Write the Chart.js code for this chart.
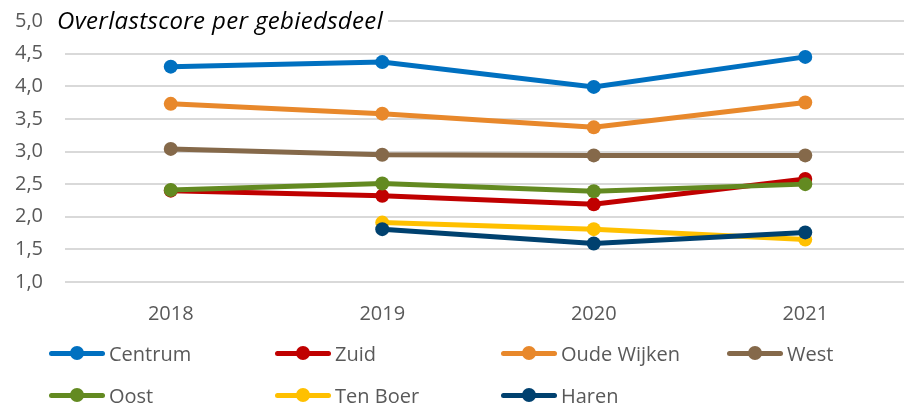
<!DOCTYPE html>
<html>
<head>
<meta charset="utf-8">
<script src="https://cdn.jsdelivr.net/npm/chart.js@4.4.1/dist/chart.umd.min.js"></script>
<style>
  body { margin: 0; overflow: hidden; background: #fff; }
  #wrap { position: relative; width: 918px; height: 406px; overflow: hidden; }
  #grafiek { position: absolute; left: 0; top: -13px; }
  #legend { position: absolute; left: 0; top: 0; width: 904px; height: 406px; pointer-events: none;
            font-family: "Open Sans", sans-serif; font-size: 20px; color: #595959; }
  .item { position: absolute; display: flex; align-items: center; height: 30px; }
  .mark { position: relative; width: 56px; height: 5px; border-radius: 3px; margin-right: 4px; }
  .mark span { position: absolute; left: 21px; top: -5px; width: 14px; height: 14px; border-radius: 50%; }
</style>
</head>
<body>
<div id="wrap">
  <canvas id="grafiek" width="918" height="351"></canvas>
  <div id="legend"></div>
</div>
<script>
const titel = "Overlastscore per gebiedsdeel";
const jaren = ["2018", "2019", "2020", "2021"];
const gebieden = ["Centrum", "Zuid", "Oude Wijken", "West", "Oost", "Ten Boer", "Haren"];
const kleuren = ["#0070C0", "#C00000", "#E8882B", "#85694A", "#638A21", "#FFC000", "#00416F"];

const centrum = [4.30, 4.37, 3.99, 4.45];
const zuid = [2.40, 2.32, 2.19, 2.58];
const oudeWijken = [3.73, 3.58, 3.37, 3.75];
const west = [3.04, 2.95, 2.94, 2.94];
const oost = [2.41, 2.51, 2.39, 2.50];
const tenBoer = [null, 1.91, 1.81, 1.65];
const haren = [null, 1.81, 1.59, 1.76];
const reeksen = [centrum, zuid, oudeWijken, west, oost, tenBoer, haren];

const yTicks = [1.0, 1.5, 2.0, 2.5, 3.0, 3.5, 4.0, 4.5, 5.0];

// titel linksboven in het plotvlak, met witte achtergrond over de bovenste rasterlijn
const titelPlugin = {
  id: "titel",
  afterDraw(chart) {
    const ctx = chart.ctx;
    ctx.save();
    ctx.font = 'italic 24px "Open Sans"';
    ctx.letterSpacing = "0.35px";
    const w = ctx.measureText(titel).width;
    ctx.fillStyle = "#fff";
    ctx.fillRect(54, 14, w + 8, 32);
    ctx.fillStyle = "#000";
    ctx.textBaseline = "alphabetic";
    ctx.fillText(titel, 57, 42);
    ctx.restore();
  }
};

const chart = new Chart(document.getElementById("grafiek"), {
  type: "line",
  data: {
    labels: jaren,
    datasets: gebieden.map((naam, i) => ({
      label: naam,
      data: reeksen[i],
      borderColor: kleuren[i],
      backgroundColor: kleuren[i],
      pointBackgroundColor: kleuren[i],
      pointBorderWidth: 0,
      pointRadius: 7,
      borderWidth: 5,
      tension: 0,
      order: gebieden.length - i
    }))
  },
  options: {
    responsive: false,
    animation: false,
    devicePixelRatio: 1,
    layout: { padding: { top: 8, right: 1, bottom: 0, left: 0 } },
    plugins: { legend: { display: false }, tooltip: { enabled: false } },
    scales: {
      x: {
        offset: true,
        grid: { display: false },
        border: { display: false },
        ticks: { color: "#595959", font: { family: "Open Sans", size: 20 }, padding: 12 }
      },
      y: {
        min: 1, max: 5,
        afterBuildTicks: s => { s.ticks = yTicks.map(v => ({ value: v })); },
        afterFit: s => { s.width = 65; },
        grid: { color: "#d9d9d9", lineWidth: 2, drawTicks: false },
        border: { display: false },
        ticks: {
          color: "#595959",
          font: { family: "Open Sans", size: 20 },
          padding: 22,
          callback: v => v.toFixed(1).replace(".", ",")
        }
      }
    }
  },
  plugins: [titelPlugin]
});

// legenda in vier kolommen
const legend = document.getElementById("legend");
chart.data.datasets.forEach((ds, i) => {
  const el = document.createElement("div");
  el.className = "item";
  el.style.left = (49 + (i % 4) * 226) + "px";
  el.style.top = (i < 4 ? 338 : 380) + "px";
  el.innerHTML = '<div class="mark" style="background:' + ds.borderColor + '"><span style="background:' +
    ds.borderColor + '"></span></div>' + ds.label;
  legend.appendChild(el);
});
</script>
</body>
</html>
